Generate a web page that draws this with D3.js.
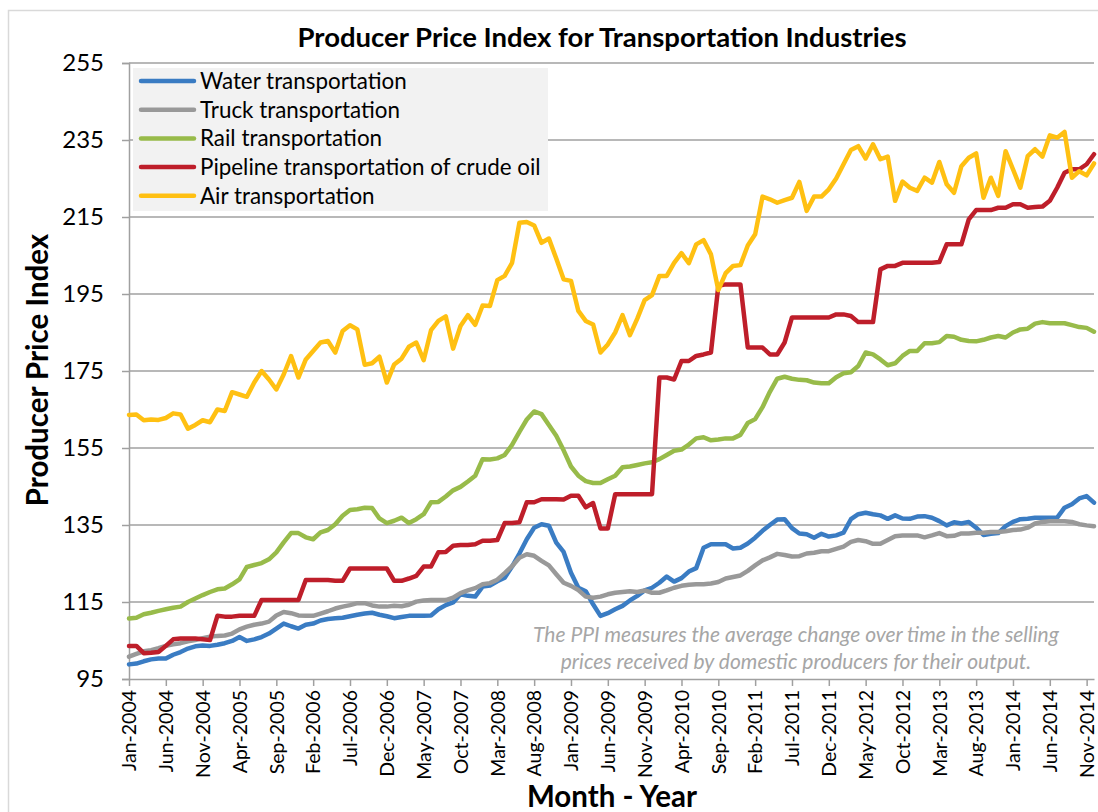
<!DOCTYPE html>
<html>
<head>
<meta charset="utf-8">
<script src="https://cdn.jsdelivr.net/npm/d3@7"></script>
<style>
  html, body { margin: 0; padding: 0; background: #ffffff; }
  svg { display: block; font-family: Lato, "Open Sans", sans-serif; }
</style>
</head>
<body>
<svg id="chart" width="1098" height="812"></svg>
<script>
// ---------------- DATA ----------------
const chartTitle = "Producer Price Index for Transportation Industries";
const yTitle = "Producer Price Index";
const xTitle = "Month - Year";
const noteLines = [
  "The PPI measures the average change over time in the selling",
  "prices received by domestic producers for their output."
];

const seriesNames = [
  "Water transportation",
  "Truck transportation",
  "Rail transportation",
  "Pipeline transportation of crude oil",
  "Air transportation"
];

// monthly categories Jan-2004 .. Dec-2014
const months = d3.timeMonth.range(new Date(2004, 0, 1), new Date(2015, 0, 1)).map(d3.timeFormat("%b-%Y"));

const tickLabels = ["Jan-2004","Jun-2004","Nov-2004","Apr-2005","Sep-2005","Feb-2006","Jul-2006",
  "Dec-2006","May-2007","Oct-2007","Mar-2008","Aug-2008","Jan-2009","Jun-2009","Nov-2009",
  "Apr-2010","Sep-2010","Feb-2011","Jul-2011","Dec-2011","May-2012","Oct-2012","Mar-2013",
  "Aug-2013","Jan-2014","Jun-2014","Nov-2014"];

const yTicks = [95, 115, 135, 155, 175, 195, 215, 235, 255];

const water = [
  98.8,99,99.6,100.1,100.3,100.3,101.3,102,102.9,103.5,103.7,103.6,
  103.9,104.3,104.9,105.9,104.9,105.3,105.9,106.8,108.1,109.4,108.7,108.1,
  109.1,109.4,110.2,110.6,110.8,110.9,111.3,111.7,112,112.2,111.7,111.3,
  110.8,111.1,111.4,111.4,111.4,111.5,113.1,114.2,114.9,117,116.6,116.4,
  119,119.3,120.4,121.3,124.2,127.6,131.3,134.3,135.2,134.8,130.4,128,
  122.6,118.7,117.8,114.4,111.4,112.1,113.1,114,115.4,116.6,118,118.7,
  120,121.6,120.3,121.2,122.9,123.8,129.1,130,130,130,128.9,129.1,
  130.2,131.7,133.5,135,136.4,136.5,134.2,132.8,132.6,131.7,132.7,132,
  132.3,133,136.5,137.8,138.2,137.8,137.5,136.6,137.5,136.7,136.6,137.2,
  137.3,136.9,136,134.9,135.7,135.4,135.8,134.3,132.4,132.7,132.9,134.7,
  135.8,136.5,136.6,136.9,136.9,136.9,136.9,139.5,140.4,141.9,142.5,140.8
];

const truck = [
  100.8,101.5,102.2,102.5,103,103.6,104,104.3,104.8,105.1,105.6,106,
  106.2,106.3,106.8,107.9,108.6,109.1,109.4,109.9,111.5,112.4,112.1,111.5,
  111.4,111.4,112,112.6,113.3,113.8,114.2,114.7,114.7,114.1,113.8,113.8,
  114,113.9,114.3,115.1,115.4,115.5,115.5,115.5,116.1,117.3,118,118.6,
  119.6,119.9,120.8,122.5,124.3,126.5,127.4,127,125.7,124.5,122.2,120,
  119.2,118.1,116.4,116.1,116.4,117,117.4,117.6,117.8,117.6,118,117.4,
  117.4,118,118.7,119.2,119.5,119.6,119.6,119.8,120.2,121.1,121.5,121.9,
  123.1,124.5,125.8,126.6,127.5,127.2,126.8,126.9,127.6,127.8,128.2,128.2,
  128.8,129.4,130.6,131.1,130.8,130.1,130.1,131.1,132.1,132.3,132.3,132.3,
  131.8,132.3,132.9,132.1,132.2,132.8,132.8,133,133,133.2,133.2,133.4,
  133.7,133.8,134.3,135.4,135.8,136,136,136,135.8,135.2,134.9,134.7
];

const rail = [
  110.7,110.9,111.8,112.2,112.7,113.1,113.5,113.8,115,115.9,116.8,117.6,
  118.3,118.5,119.6,120.9,124.1,124.6,125.1,126.1,127.9,130.5,132.9,132.9,
  131.8,131.3,133.1,133.7,135.2,137.4,138.9,139.1,139.5,139.4,136.7,135.5,
  136.1,136.9,135.5,136.5,137.8,140.9,141,142.4,144,144.9,146.3,147.8,
  152.1,152,152.3,153.2,155.8,159.2,162.4,164.5,163.8,161,158.2,154.4,
  150.2,147.8,146.4,145.9,145.9,146.9,147.8,150,150.2,150.6,151,151.3,
  152.1,153.2,154.3,154.6,155.9,157.5,157.8,157,157.2,157.5,157.5,158.4,
  161.5,162.5,165.6,169.6,173,173.5,173,172.7,172.6,172,171.8,171.8,
  173.4,174.4,174.7,176.3,179.8,179.3,178,176.5,177,178.9,180.2,180.2,
  182.2,182.2,182.5,184.1,183.9,183.1,182.8,182.7,183.1,183.7,184.1,183.7,
  185,185.8,186,187.3,187.7,187.4,187.4,187.4,186.9,186.4,186.2,185.2
];

const pipeline = [
  103.6,103.6,101.7,101.8,102,103.6,105.3,105.5,105.5,105.5,105.3,105.1,
  111.4,111.2,111.2,111.4,111.4,111.4,115.5,115.5,115.5,115.5,115.5,115.5,
  120.7,120.7,120.7,120.7,120.5,120.5,123.7,123.7,123.7,123.7,123.7,123.7,
  120.5,120.5,121.1,121.8,124.2,124.2,127.9,128,129.6,129.8,129.8,130,
  130.9,130.9,131.1,135.5,135.5,135.7,140.9,140.9,141.7,141.7,141.7,141.6,
  142.6,142.6,139.6,140.7,134.1,134.1,143,143,143,143,143,143,
  173.3,173.3,172.8,177.6,177.6,178.9,179.3,179.8,197.1,197.5,197.5,197.5,
  181.1,181.1,181.1,179.3,179.3,182.4,188.9,188.9,188.9,188.9,188.9,188.9,
  189.7,189.7,189.3,187.7,187.7,187.7,201.4,202.3,202.3,203.1,203.1,203.1,
  203.1,203.1,203.3,207.9,207.9,207.9,214.4,216.8,216.8,216.8,217.4,217.4,
  218.3,218.3,217.4,217.6,217.7,219.2,222.6,226.5,227.4,227.4,228.7,231.3
];

const air = [
  163.6,163.7,162.2,162.4,162.3,162.8,164,163.7,160,161,162.2,161.7,
  165,164.6,169.5,168.9,168.3,172,175,172.8,170.2,174.1,178.9,173.3,
  178,180.2,182.4,182.8,179.8,185.4,186.9,185.8,176.6,177,178.7,172,
  176.7,178.2,181.3,182.4,177.8,185.6,188,189.2,180.8,186.7,189.5,187,
  192,191.9,198.6,199.7,203.1,213.5,213.7,212.8,208.3,209.4,204.2,198.8,
  198.4,190.6,188,187.1,179.8,181.9,185,189.5,184.3,188.6,193.4,194.7,
  199.7,199.7,203.1,205.6,203,207.9,209,205.3,196,200.4,202.3,202.5,
  207.6,210.5,220.3,219.6,218.7,219.4,220,224.1,216.6,220.3,220.3,222.2,
  225,228.7,232.4,233.4,230.2,233.9,230,230.7,219.2,224.2,222.6,221.8,
  225.2,223.9,229.3,223.5,221.3,228.2,230.4,231.5,220,225.2,220.5,232.1,
  227.4,222.6,230.8,232.6,230.7,236.2,235.6,237.1,225.2,226.9,225.8,228.9
];

const seriesValues = [water, truck, rail, pipeline, air];
const seriesColors = ["#3A7CC3", "#999999", "#98BB4A", "#BE1E2A", "#FFC012"];

// ---------------- DRAW ----------------
const svg = d3.select("#chart");
const plot = { left: 129, right: 1094, top: 63, bottom: 679 };

// chart-area border
svg.append("rect")
  .attr("x", 8.5).attr("y", 10.5).attr("width", 1100).attr("height", 820)
  .attr("fill", "#ffffff").attr("stroke", "#d9d9d9").attr("stroke-width", 1.5);

const x = d3.scalePoint().domain(months).range([plot.left, plot.right]);
const y = d3.scaleLinear().domain([95, 255]).range([plot.bottom, plot.top]);

// gridlines
svg.append("g")
  .selectAll("line")
  .data(yTicks.filter(v => v !== 95))
  .join("line")
  .attr("x1", plot.left).attr("x2", plot.right)
  .attr("y1", d => y(d)).attr("y2", d => y(d))
  .attr("stroke", "#a0a0a0").attr("stroke-width", 1.5);

// y axis
const yAxis = svg.append("g")
  .attr("transform", `translate(${plot.left},0)`)
  .call(d3.axisLeft(y).tickValues(yTicks).tickSize(7).tickPadding(18).tickFormat(d3.format("d")));
yAxis.select(".domain").attr("stroke", "#a0a0a0").attr("stroke-width", 1.5);
yAxis.selectAll(".tick line").attr("stroke", "#a0a0a0").attr("stroke-width", 1.5);
yAxis.selectAll(".tick text").attr("font-family", "Lato").attr("font-size", 24).attr("fill", "#000");

// x axis
const xAxis = svg.append("g")
  .attr("transform", `translate(0,${plot.bottom})`)
  .call(d3.axisBottom(x).tickValues(tickLabels).tickSize(7).tickSizeOuter(0));
xAxis.select(".domain").attr("stroke", "#a0a0a0").attr("stroke-width", 1.5);
xAxis.selectAll(".tick line").attr("stroke", "#a0a0a0").attr("stroke-width", 1.5);
xAxis.selectAll(".tick text")
  .attr("font-family", "Lato").attr("font-size", 19.5).attr("fill", "#000")
  .attr("text-anchor", "end")
  .attr("transform", "rotate(-90)")
  .attr("x", -11).attr("y", 0).attr("dy", "0.35em");

// annotation
svg.append("g").selectAll("text")
  .data(noteLines)
  .join("text")
  .attr("x", 796).attr("y", (d, i) => 642 + i * 27)
  .attr("text-anchor", "middle")
  .attr("font-family", "Lato").attr("font-style", "italic").attr("font-size", 21)
  .attr("fill", "#a6a6a6")
  .text(d => d);

// lines
const line = d3.line()
  .x((d, i) => x(months[i]))
  .y(d => y(d));

svg.append("g").selectAll("path")
  .data(seriesValues)
  .join("path")
  .attr("d", d => line(d))
  .attr("fill", "none")
  .attr("stroke", (d, i) => seriesColors[i])
  .attr("stroke-width", 4.5)
  .attr("stroke-linejoin", "round")
  .attr("stroke-linecap", "round");

// legend
const legend = svg.append("g");
legend.append("rect")
  .attr("x", 133).attr("y", 68).attr("width", 415).attr("height", 143)
  .attr("fill", "#f2f2f2");
const items = legend.selectAll("g.item")
  .data(seriesNames)
  .join("g").attr("class", "item")
  .attr("transform", (d, i) => `translate(0,${81 + i * 28.7})`);
items.append("line")
  .attr("x1", 141).attr("x2", 194).attr("y1", 0).attr("y2", 0)
  .attr("stroke", (d, i) => seriesColors[i]).attr("stroke-width", 4.5)
  .attr("stroke-linecap", "round");
items.append("text")
  .attr("x", 200).attr("y", 0).attr("dy", "0.35em")
  .attr("font-family", "Lato").attr("font-size", 22.4).attr("fill", "#000")
  .text(d => d);

// titles
svg.append("text")
  .attr("x", 602).attr("y", 47)
  .attr("text-anchor", "middle")
  .attr("font-family", "Lato").attr("font-weight", "bold").attr("font-size", 27.5)
  .attr("fill", "#000")
  .text(chartTitle);

svg.append("text")
  .attr("transform", "translate(48,370) rotate(-90)")
  .attr("text-anchor", "middle")
  .attr("font-family", "Lato").attr("font-weight", "bold").attr("font-size", 29.5)
  .attr("fill", "#000")
  .text(yTitle);

svg.append("text")
  .attr("x", 612).attr("y", 807)
  .attr("text-anchor", "middle")
  .attr("font-family", "Lato").attr("font-weight", "bold").attr("font-size", 29.5)
  .attr("fill", "#000")
  .text(xTitle);
</script>
</body>
</html>
